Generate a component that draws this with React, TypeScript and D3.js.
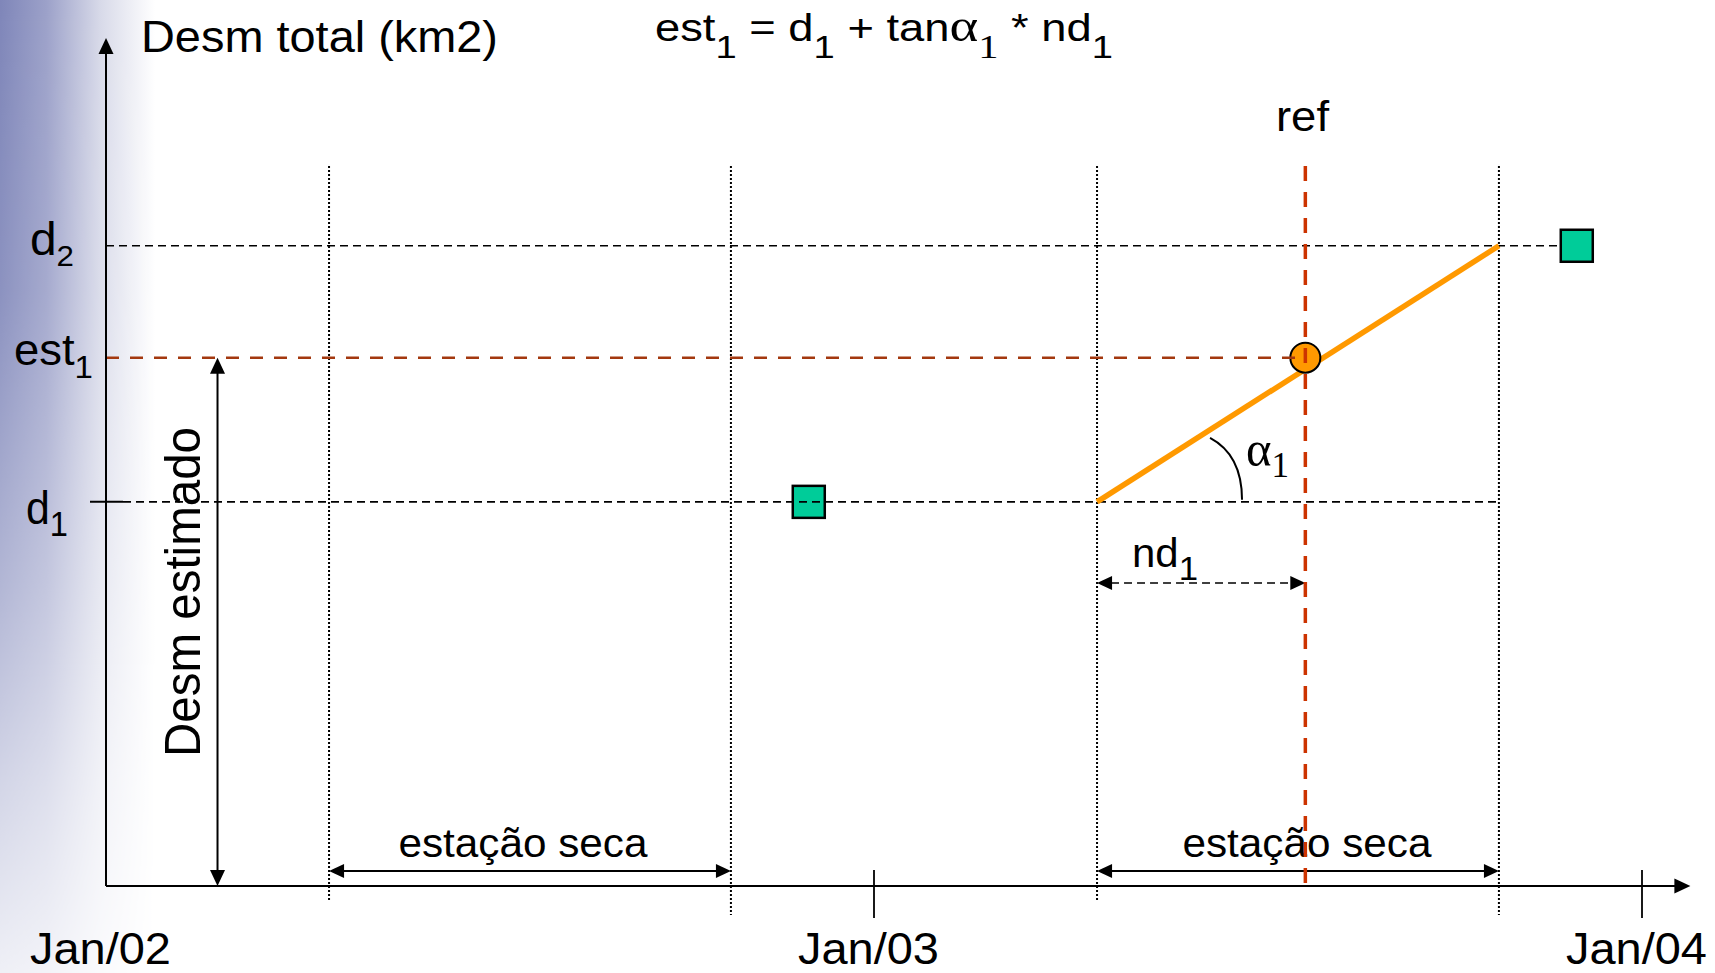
import React from "react";
import * as d3 from "d3";

// ---------- data ----------
const axisDates = ["2002-01-01", "2003-01-01", "2004-01-01"];
const tickLabels = ["Jan/02", "Jan/03", "Jan/04"];
const axisEndDate = "2004-01-24";
const seasonStarts = ["2002-04-17", "2003-04-17"];
const seasonEnds = ["2002-10-25", "2003-10-25"];
const seasonLabels = ["estação seca", "estação seca"];
const refDate = "2003-07-25";
const observedDates = ["2002-12-01", "2003-12-01"];
const observedValues = [45.3, 75.5]; // d1, d2
const estValue = 62.3; // est1
const yMax = 100;
const estimArrowDate = "2002-02-23";

const P = (s: string) => new Date(s + "T00:00:00Z");

const W = 1715;
const H = 973;

type Dir = "left" | "right" | "up" | "down";
const arrowPts = (x: number, y: number, dir: Dir, len = 15, hw = 7) => {
  switch (dir) {
    case "left":
      return `${x},${y} ${x + len},${y - hw} ${x + len},${y + hw}`;
    case "right":
      return `${x},${y} ${x - len},${y - hw} ${x - len},${y + hw}`;
    case "up":
      return `${x},${y} ${x - hw},${y + len} ${x + hw},${y + len}`;
    default:
      return `${x},${y} ${x - hw},${y - len} ${x + hw},${y - len}`;
  }
};

export default function App() {
  const x = d3
    .scaleUtc()
    .domain([P(axisDates[0]), P(axisDates[2])])
    .range([106, 1642]);
  const y = d3.scaleLinear().domain([0, yMax]).range([886, 38]);

  const x0 = x(P(axisDates[0]));
  const y0 = y(0);
  const xEnd = x(P(axisEndDate));
  const yTop = y(yMax);

  const d1 = observedValues[0];
  const d2 = observedValues[1];
  const xs2 = x(P(seasonStarts[1]));
  const xe2 = x(P(seasonEnds[1]));
  const xRef = x(P(refDate));

  const guideTop = 166;
  const seasonArrowY = 871;
  const ndArrowY = 583;
  const font = "Arial, 'Liberation Sans', Helvetica, sans-serif";
  const serif = "'Times New Roman', 'Liberation Serif', serif";

  const blackDash = "8,5";
  const dotted = "2,2";

  // angle arc
  const cx = xs2;
  const cy = y(d1);
  const arcPath = `M${cx + 113},${cy - 64} Q${cx + 145},${cy - 47} ${cx + 145},${cy - 2}`;

  const estArrowX = x(P(estimArrowDate));

  return (
    <svg
      width={W}
      height={H}
      style={{ position: "fixed", left: 0, top: 0, display: "block", background: "#fff" }}
      fontFamily={font}
    >
      <defs>
        <linearGradient id="bandH" x1="0" x2="1" y1="0" y2="0">
          <stop offset="0" stopColor="#7f86b9" />
          <stop offset="0.3" stopColor="#9ca1c9" />
          <stop offset="0.65" stopColor="#d8dae9" />
          <stop offset="1" stopColor="#ffffff" />
        </linearGradient>
        <linearGradient id="fadeV" x1="0" x2="0" y1="0" y2="1">
          <stop offset="0" stopColor="#ffffff" />
          <stop offset="0.3" stopColor="#e6e6e6" />
          <stop offset="0.6" stopColor="#9a9a9a" />
          <stop offset="0.8" stopColor="#5a5a5a" />
          <stop offset="1" stopColor="#202020" />
        </linearGradient>
        <mask id="bandMask">
          <rect x={0} y={0} width={170} height={H} fill="url(#fadeV)" />
        </mask>
      </defs>

      <rect x={0} y={0} width={W} height={H} fill="#ffffff" />
      <rect x={0} y={0} width={155} height={H} fill="url(#bandH)" mask="url(#bandMask)" />

      {/* dotted season guides */}
      {seasonStarts.map((d, i) => (
        <line
          key={"ss" + i}
          x1={x(P(d))}
          x2={x(P(d))}
          y1={guideTop}
          y2={900}
          stroke="#000"
          strokeWidth={2}
          strokeDasharray={dotted}
        />
      ))}
      {seasonEnds.map((d, i) => (
        <line
          key={"se" + i}
          x1={x(P(d))}
          x2={x(P(d))}
          y1={guideTop}
          y2={915}
          stroke="#000"
          strokeWidth={2}
          strokeDasharray={dotted}
        />
      ))}

      {/* observed squares */}
      {observedDates.map((d, i) => (
        <rect
          key={"sq" + i}
          x={x(P(d)) - 16}
          y={y(observedValues[i]) - 16}
          width={32}
          height={32}
          fill="#00cc99"
          stroke="#000"
          strokeWidth={2.5}
        />
      ))}

      {/* horizontal dashed reference lines */}
      <line x1={x0} x2={x(P(observedDates[1])) - 17} y1={y(d2)} y2={y(d2)} stroke="#000" strokeWidth={1.6} strokeDasharray={blackDash} />
      <line x1={x0 + 17} x2={xe2} y1={y(d1)} y2={y(d1)} stroke="#000" strokeWidth={1.6} strokeDasharray={blackDash} />
      <line x1={x0 - 16} x2={x0 + 17} y1={y(d1)} y2={y(d1)} stroke="#000" strokeWidth={2} />

      {/* orange trend line */}
      <line x1={xs2} y1={y(d1)} x2={xe2} y2={y(d2)} stroke="#ff9900" strokeWidth={5.5} />

      {/* estimated point */}
      <circle cx={xRef} cy={y(estValue)} r={15} fill="#ff9900" stroke="#000" strokeWidth={2} />
      <line x1={x0} x2={xRef} y1={y(estValue)} y2={y(estValue)} stroke="#a3380f" strokeWidth={2.5} strokeDasharray="13,11" />

      {/* angle arc */}
      <path d={arcPath} fill="none" stroke="#000" strokeWidth={2} />
      <text x={1246} y={466} fontFamily={serif} fontSize={50} textLength={43} lengthAdjust="spacingAndGlyphs">
        α<tspan fontSize={36} dy={11}>1</tspan>
      </text>

      {/* nd1 arrow */}
      <line x1={xs2 + 14} x2={xRef - 14} y1={ndArrowY} y2={ndArrowY} stroke="#000" strokeWidth={1.6} strokeDasharray={blackDash} />
      <polygon points={arrowPts(xs2, ndArrowY, "left", 15, 7)} fill="#000" />
      <polygon points={arrowPts(xRef, ndArrowY, "right", 15, 7)} fill="#000" />
      <text x={1132} y={567} fontSize={41} textLength={66} lengthAdjust="spacingAndGlyphs">
        nd<tspan fontSize={34} dy={13}>1</tspan>
      </text>

      {/* season arrows and labels */}
      {seasonStarts.map((d, i) => {
        const a = x(P(d));
        const b = x(P(seasonEnds[i]));
        const offs = [-7, 9];
        return (
          <g key={"sa" + i}>
            <line x1={a + 12} x2={b - 12} y1={seasonArrowY} y2={seasonArrowY} stroke="#000" strokeWidth={2.2} />
            <polygon points={arrowPts(a, seasonArrowY, "left", 15, 7)} fill="#000" />
            <polygon points={arrowPts(b, seasonArrowY, "right", 15, 7)} fill="#000" />
            <text
              x={(a + b) / 2 + offs[i]}
              y={857}
              fontSize={40}
              textAnchor="middle"
              textLength={249}
              lengthAdjust="spacingAndGlyphs"
            >
              {seasonLabels[i]}
            </text>
          </g>
        );
      })}

      {/* ref line */}
      <line x1={xRef} x2={xRef} y1={guideTop} y2={y0 - 2} stroke="#cc3300" strokeWidth={3.5} strokeDasharray="15,11" />
      <text x={1276} y={131} fontSize={42} textLength={53} lengthAdjust="spacingAndGlyphs">
        ref
      </text>

      {/* axes */}
      <line x1={x0} x2={x0} y1={y0} y2={yTop + 14} stroke="#000" strokeWidth={2} />
      <polygon points={arrowPts(x0, yTop, "up", 16, 7.5)} fill="#000" />
      <line x1={x0} x2={xEnd - 14} y1={y0} y2={y0} stroke="#000" strokeWidth={2.2} />
      <polygon points={arrowPts(xEnd, y0, "right", 16, 7.5)} fill="#000" />

      {axisDates.map((d, i) => (
        <g key={"t" + i}>
          {i > 0 && <line x1={x(P(d))} x2={x(P(d))} y1={870} y2={918} stroke="#000" strokeWidth={1.8} />}
          <text
            x={x(P(d)) - 5.5}
            y={964}
            fontSize={45}
            textAnchor="middle"
            textLength={141}
            lengthAdjust="spacingAndGlyphs"
          >
            {tickLabels[i]}
          </text>
        </g>
      ))}

      {/* Desm estimado vertical arrow */}
      <line x1={estArrowX} x2={estArrowX} y1={y(estValue) + 14} y2={y0 - 14} stroke="#000" strokeWidth={2} />
      <polygon points={arrowPts(estArrowX, y(estValue), "up", 16, 7.5)} fill="#000" />
      <polygon points={arrowPts(estArrowX, y0, "down", 16, 7.5)} fill="#000" />
      <text
        transform={`translate(200,592) rotate(-90)`}
        fontSize={50}
        textAnchor="middle"
        textLength={330}
        lengthAdjust="spacingAndGlyphs"
      >
        Desm estimado
      </text>

      {/* y labels */}
      <text x={30} y={255} fontSize={46} textLength={44} lengthAdjust="spacingAndGlyphs">
        d<tspan fontSize={30} dy={11}>2</tspan>
      </text>
      <text x={14} y={365} fontSize={44} textLength={79} lengthAdjust="spacingAndGlyphs">
        est<tspan fontSize={32} dy={13}>1</tspan>
      </text>
      <text x={26} y={524} fontSize={46} textLength={42} lengthAdjust="spacingAndGlyphs">
        d<tspan fontSize={35} dy={12}>1</tspan>
      </text>

      {/* titles */}
      <text x={141} y={52} fontSize={45} textLength={357} lengthAdjust="spacingAndGlyphs">
        Desm total (km2)
      </text>
      <text x={655} y={41} fontSize={38} textLength={458} lengthAdjust="spacingAndGlyphs">
        {"est"}
        <tspan fontSize={32} dy={17}>1</tspan>
        <tspan dy={-17}>{" = d"}</tspan>
        <tspan fontSize={32} dy={17}>1</tspan>
        <tspan dy={-17}>{" + tan"}</tspan>
        <tspan fontFamily={serif} fontSize={46}>α</tspan>
        <tspan fontFamily={serif} fontSize={34} dy={17}>1</tspan>
        <tspan dy={-17}>{" * nd"}</tspan>
        <tspan fontSize={32} dy={17}>1</tspan>
      </text>
    </svg>
  );
}
